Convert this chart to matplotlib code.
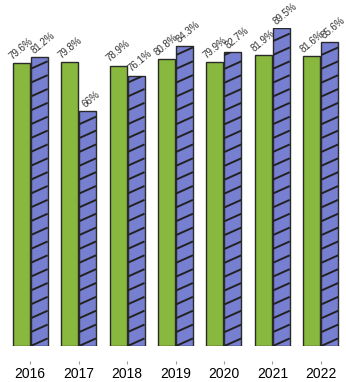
import matplotlib
matplotlib.use('Agg')
import matplotlib.pyplot as plt
import numpy as np

years = ['2016', '2017', '2018', '2019', '2020', '2021', '2022']
green_vals = [79.6, 79.8, 78.9, 80.8, 79.9, 81.9, 81.6]
purple_vals = [81.2, 66, 76.1, 84.3, 82.7, 89.5, 85.6]
green_labels = ['79.6%', '79.8%', '78.9%', '80.8%', '79.9%', '81.9%', '81.6%']
purple_labels = ['81.2%', '66%', '76.1%', '84.3%', '82.7%', '89.5%', '85.6%']

plt.rcParams['font.family'] = ['Liberation Sans', 'DejaVu Sans']

fig = plt.figure(figsize=(3.46, 3.82), dpi=100)
ax = fig.add_axes([6 / 346, 36 / 382, 339 / 346, 318 / 382])

x = np.arange(len(years))
w = 0.35
off = 0.185
gb = ax.bar(x - off, green_vals, w, color='#89b83e', edgecolor='#2a2a2a', linewidth=1)
pb = ax.bar(x + off, purple_vals, w, color='#777fd0', edgecolor='#2a2a2a', linewidth=1)

ax.set_xlim(-0.5, 6.5)
ax.set_ylim(0, 89.5)

# shallow hatch lines drawn inside each purple bar
slope = 6.1     # data-y per data-x (~0.45 in pixels)
step = 3.9      # vertical spacing in data units (~14 px)
for b in pb:
    x0, x1 = b.get_x(), b.get_x() + b.get_width()
    h = b.get_height()
    for y0 in np.arange(-step, h + step, step):
        ln, = ax.plot([x0, x1], [y0, y0 + slope * (x1 - x0)], color='#222222',
                      lw=1.4, solid_capstyle='butt', zorder=3)
        ln.set_clip_path(b.get_path(), b.get_transform())

for bars, labels, dx in ((gb, green_labels, 0.0), (pb, purple_labels, 0.08)):
    for b, lab in zip(bars, labels):
        ax.text(b.get_x() + b.get_width() / 2 + dx, b.get_height() + 0.5, lab,
                ha='center', va='bottom', rotation=40, fontsize=7, color='#333333',
                clip_on=False)

ax.set_xticks(x)
ax.set_xticklabels(years, fontsize=8, color='#333333')
ax.set_yticks([])
for s in ['left', 'right', 'top']:
    ax.spines[s].set_visible(False)
ax.spines['bottom'].set_position(('outward', 11))
ax.spines['bottom'].set_visible(False)
ax.tick_params(axis='x', length=2.5, color='#999999', pad=1.5)

fig.savefig('out.png', dpi=100)
